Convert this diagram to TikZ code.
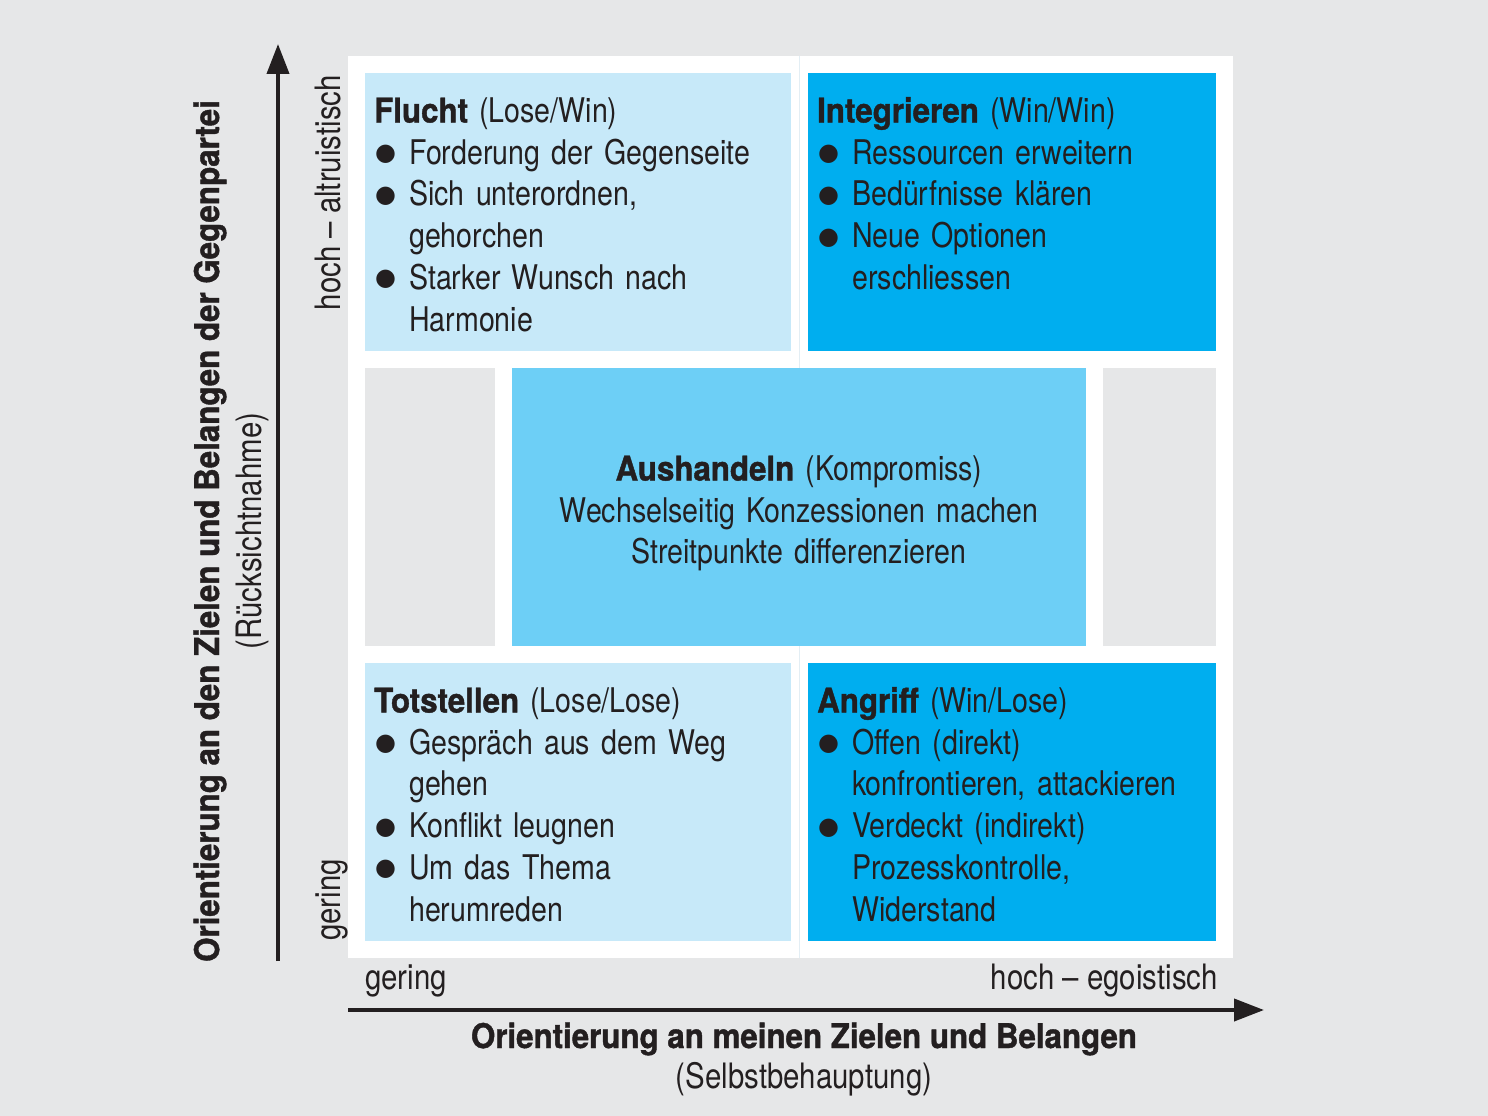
\documentclass[tikz,border=0pt]{standalone}
\usepackage{fontspec}
\setmainfont{TeX Gyre Heros}[FakeStretch=0.84, BoldFeatures={FakeStretch=0.92, FakeBold=1.2}]
\newfontfamily\symf{DejaVu Sans}
\usetikzlibrary{arrows.meta}
\definecolor{bg}{HTML}{E6E7E8}
\definecolor{lightb}{HTML}{C7E9F9}
\definecolor{midb}{HTML}{6DCFF6}
\definecolor{strongb}{HTML}{00AEEF}
\definecolor{ink}{HTML}{231F20}
\definecolor{faint}{HTML}{E3EEF4}
\newcommand\nl{\hfil\break}
\newcommand\bitem[1]{\par\hangindent=35pt\hangafter=1\noindent\makebox[35pt][l]{\hspace{1pt}\raisebox{3.5pt}{\symf\fontsize{24}{24}\selectfont ●}}#1}
\tikzset{
  cell/.style={draw=none, inner sep=0pt, minimum width=#1, anchor=north west},
  boxtext/.style={inner sep=0pt, text width=410pt, align=left, anchor=base west, text=ink, font=\fontsize{34}{41.7}\selectfont},
  axislabel/.style={inner sep=0pt, text=ink, font=\fontsize{35}{40}\selectfont},
  axisbold/.style={inner sep=0pt, text=ink, font=\fontsize{34}{40}\selectfont\bfseries},
  axisarrow/.style={draw=ink, line width=4pt, -{Triangle[length=30pt,width=22pt]}}
}
\begin{document}
\begin{tikzpicture}[x=1pt,y=-1pt]
\fill[bg] (0,0) rectangle (1488,1116);
\useasboundingbox (0,0) rectangle (1488,1116);
% white frame
\fill[white] (348,56) rectangle (1233,958);
\draw[faint, line width=1pt] (799.5,56) -- (799.5,958);
% cells
\node[cell=426pt, minimum height=278pt, fill=lightb] (flucht) at (365,73) {};
\node[cell=408pt, minimum height=278pt, fill=strongb] (integ) at (808,73) {};
\node[cell=130pt, minimum height=278pt, fill=bg] (gleft) at (365,368) {};
\node[cell=574pt, minimum height=278pt, fill=midb] (aush) at (512,368) {};
\node[cell=113pt, minimum height=278pt, fill=bg] (gright) at (1103,368) {};
\node[cell=426pt, minimum height=278pt, fill=lightb] (tot) at (365,663) {};
\node[cell=408pt, minimum height=278pt, fill=strongb] (angr) at (808,663) {};
% texts
\node[boxtext] (fluchtT) at (374,122.5) {\noindent\textbf{Flucht} (Lose/Win)
\bitem{Forderung der Gegenseite}
\bitem{Sich unterordnen,\nl gehorchen}
\bitem{Starker Wunsch nach\nl Harmonie}\par};
\node[boxtext] (integT) at (817,122.5) {\noindent\textbf{Integrieren} (Win/Win)
\bitem{Ressourcen erweitern}
\bitem{Bedürfnisse klären}
\bitem{Neue Optionen\nl erschliessen}\par};
\node[boxtext] (totT) at (374,712.5) {\noindent\textbf{Totstellen} (Lose/Lose)
\bitem{Gespräch aus dem Weg\nl gehen}
\bitem{Konflikt leugnen}
\bitem{Um das Thema\nl herumreden}\par};
\node[boxtext] (angrT) at (817,712.5) {\noindent\textbf{Angriff} (Win/Lose)
\bitem{Offen (direkt)\nl konfrontieren, attackieren}
\bitem{Verdeckt (indirekt)\nl Prozesskontrolle,\nl Widerstand}\par};
\node[boxtext, text width=570pt, align=center, anchor=base] (aushT) at (799,480.5) {\textbf{Aushandeln} (Kompromiss)\\Wechselseitig Konzessionen machen\\Streitpunkte differenzieren};
% axes
\coordinate (yfrom) at (278,961);
\coordinate (yto) at (278,44);
\coordinate (xfrom) at (348,1010);
\coordinate (xto) at (1264,1010);
\draw[axisarrow] (yfrom) -- (yto);
\draw[axisarrow] (xfrom) -- (xto);
% axis tick labels
\node[axislabel, rotate=90, anchor=base east] (yhigh) at (340,75) {hoch – altruistisch};
\node[axislabel, rotate=90, anchor=base west] (ylow) at (340,941) {gering};
\node[axislabel, anchor=base west] (xlow) at (365,989) {gering};
\node[axislabel, anchor=base east] (xhigh) at (1218,989) {hoch – egoistisch};
% axis titles
\node[axisbold, rotate=90, anchor=base] (ytitle) at (219,531) {Orientierung an den Zielen und Belangen der Gegenpartei};
\node[axislabel, rotate=90, anchor=base] (ysub) at (261,531) {(Rücksichtnahme)};
\node[axisbold, anchor=base] (xtitle) at (804,1048) {Orientierung an meinen Zielen und Belangen};
\node[axislabel, anchor=base] (xsub) at (804,1088) {(Selbstbehauptung)};
\end{tikzpicture}
\end{document}
